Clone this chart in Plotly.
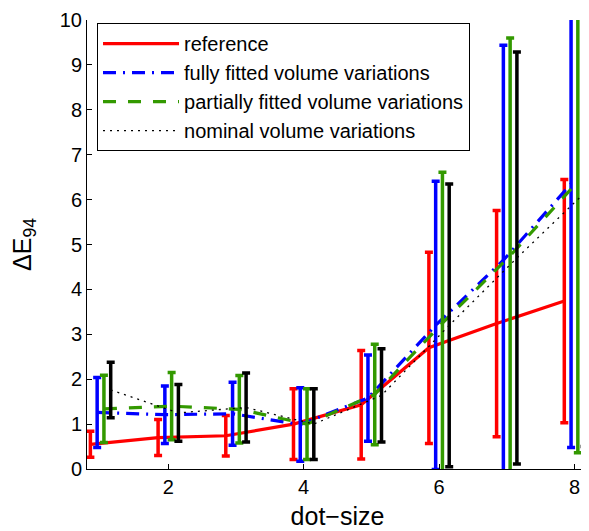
import plotly.graph_objects as go

# dot sizes
dot_size = [1, 2, 3, 4, 5, 6, 7, 8]

# mean delta E94 per series
ref_mean = [0.55, 0.70, 0.74, 1.00, 1.43, 2.70, 3.24, 3.74]
ref_err = [0.29, 0.40, 0.45, 0.79, 1.21, 2.13, 2.52, 2.71]

full_mean = [1.26, 1.21, 1.23, 0.99, 1.58, 3.20, 4.65, 6.35]
full_err = [0.78, 0.64, 0.70, 0.82, 0.96, 3.21, 4.79, 5.87]

part_mean = [1.34, 1.40, 1.33, 1.00, 1.66, 3.25, 4.75, 6.40]
part_err = [0.75, 0.75, 0.75, 0.79, 1.12, 3.36, 4.85, 6.04]

nom_mean = [1.76, 1.25, 1.37, 1.00, 1.64, 3.20, 4.70, 6.15]
nom_err = [0.62, 0.63, 0.77, 0.79, 1.04, 3.15, 4.59, 5.65]

y_ticks = [0, 1, 2, 3, 4, 5, 6, 7, 8, 9, 10]
x_ticks = [2, 4, 6, 8]

names = ["reference", "fully fitted volume variations",
         "partially fitted volume variations", "nominal volume variations"]
offsets = [-0.15, -0.05, 0.05, 0.15]
colors = ["#ff0000", "#0000ff", "#339900", "#000000"]
dashes = ["solid", "13px,7px,2px,7px", "13px,12px", "2px,5px"]
widths = [3.2, 3.2, 3.2, 1.3]
means = [ref_mean, full_mean, part_mean, nom_mean]
errs = [ref_err, full_err, part_err, nom_err]

FONT = "Liberation Sans, Arial, Helvetica, sans-serif"

fig = go.Figure()
for name, off, col, dsh, w, m, e in zip(names, offsets, colors, dashes, widths, means, errs):
    fig.add_trace(go.Scatter(
        x=[d + off for d in dot_size], y=m, name=name, mode="lines",
        line=dict(color=col, width=w, dash=dsh),
        error_y=dict(type="data", array=e, symmetric=True, visible=True,
                     color=col, thickness=3.5, width=4),
    ))

# page body has an 8px default margin, so the figure is sized to fit in 589x531
fig.update_layout(
    width=581, height=523,
    margin=dict(l=79, r=1, t=6, b=62),
    plot_bgcolor="white", paper_bgcolor="white",
    font=dict(family=FONT, color="black", size=20),
    showlegend=True,
    legend=dict(x=0.02, y=0.993, xanchor="left", yanchor="top",
                bgcolor="white", bordercolor="black", borderwidth=1,
                font=dict(size=20, family=FONT), tracegroupgap=0,
                itemwidth=76),
)
fig.update_xaxes(
    range=[0.8, 8.2], tickvals=x_ticks, ticks="inside", ticklen=5,
    tickcolor="black", showline=True, linecolor="black", linewidth=1,
    showgrid=False, zeroline=False, mirror=False,
    title=dict(text="dot−size", font=dict(size=25, family=FONT), standoff=10),
    tickfont=dict(size=20), ticklabeloverflow="allow",
)
fig.update_yaxes(
    range=[0, 10], tickvals=y_ticks, ticks="inside", ticklen=5,
    tickcolor="black", showline=True, linecolor="black", linewidth=1,
    showgrid=False, zeroline=False, mirror=False,
    title=dict(text="ΔE<sub>94</sub>", font=dict(size=25, family=FONT), standoff=23),
    tickfont=dict(size=20), ticklabeloverflow="allow",
)
fig.write_html("out.html")
